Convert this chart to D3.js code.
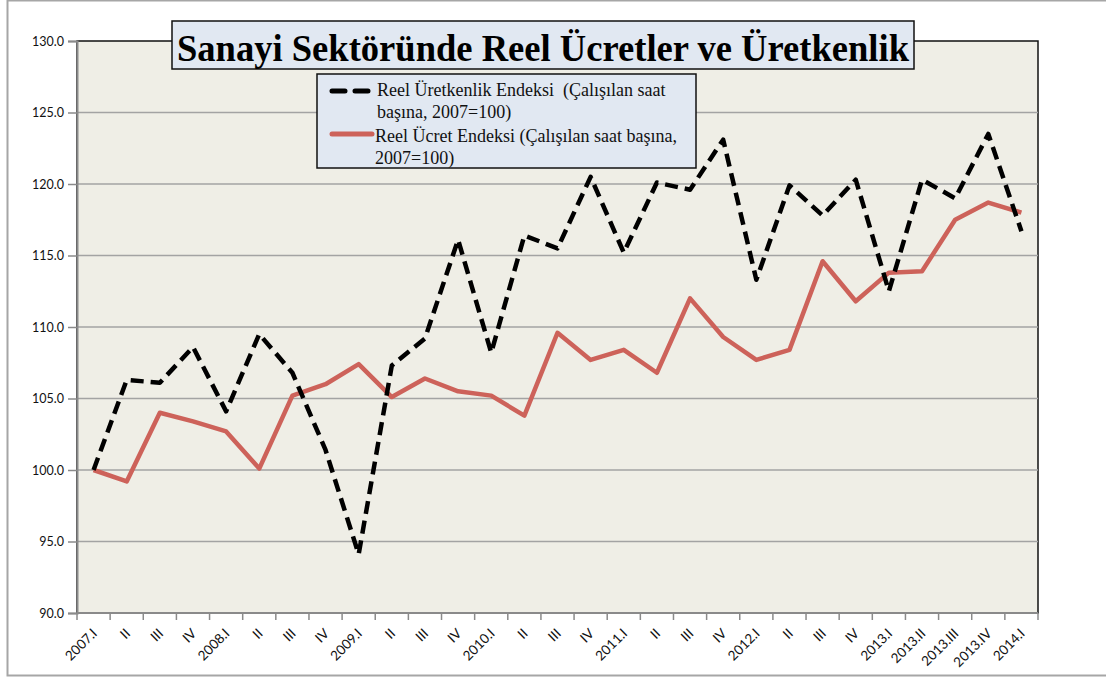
<!DOCTYPE html>
<html>
<head>
<meta charset="utf-8">
<script src="https://cdn.jsdelivr.net/npm/d3@7"></script>
<style>
  body { margin: 0; background: #fff; }
  .axis text { font-family: Lato, "Open Sans", sans-serif; fill: #111; }
  .legendText { font-family: "Liberation Serif", "Times New Roman", serif; font-size: 18px; fill: #111; white-space: pre; }
</style>
</head>
<body>
<div class="chart"></div>
<script>
// data
var quarterLabels = ["2007.I", "II", "III", "IV", "2008.I", "II", "III", "IV",
  "2009.I", "II", "III", "IV", "2010.I", "II", "III", "IV",
  "2011.I", "II", "III", "IV", "2012.I", "II", "III", "IV",
  "2013.I", "2013.II", "2013.III", "2013.IV", "2014.I"];

var productivityIndex = [100.0, 106.3, 106.1, 108.6, 104.1, 109.5, 106.8, 101.4,
  94.1, 107.3, 109.2, 116.1, 108.2, 116.4, 115.5, 120.5,
  115.2, 120.1, 119.6, 123.1, 113.3, 119.9, 117.8, 120.3,
  112.5, 120.3, 119.0, 123.5, 116.7];

var wageIndex = [100.0, 99.2, 104.0, 103.4, 102.7, 100.1, 105.2, 106.0,
  107.4, 105.1, 106.4, 105.5, 105.2, 103.8, 109.6, 107.7,
  108.4, 106.8, 112.0, 109.3, 107.7, 108.4, 114.6, 111.8,
  113.8, 113.9, 117.5, 118.7, 118.0];

var yTicks = [90, 95, 100, 105, 110, 115, 120, 125, 130];

var seriesNames = ["Reel Üretkenlik Endeksi  (Çalışılan saat", "başına, 2007=100)",
  "Reel Ücret Endeksi (Çalışılan saat başına,", "2007=100)"];

var chartTitle = "Sanayi Sektöründe Reel Ücretler ve Üretkenlik";

var svgWidth = 1106;
var svgHeight = 678;

var margin = { top: 41, right: 68, bottom: 65, left: 77 };
var width = svgWidth - margin.left - margin.right;
var height = svgHeight - margin.top - margin.bottom;

var svg = d3.select(".chart")
  .append("svg")
  .attr("width", svgWidth)
  .attr("height", svgHeight);

// outer chart frame
svg.append("rect")
  .attr("x", 7.5).attr("y", 0.5)
  .attr("width", svgWidth + 10).attr("height", 675)
  .attr("fill", "#fff")
  .attr("stroke", "#a6a6a6")
  .attr("stroke-width", 2);

var chartGroup = svg.append("g")
  .attr("transform", `translate(${margin.left}, ${margin.top})`);

// scales
var xScale = d3.scaleBand()
  .domain(d3.range(quarterLabels.length))
  .range([0, width])
  .padding(0);

var yScale = d3.scaleLinear()
  .domain([90, 130])
  .range([height, 0]);

var xMid = i => xScale(i) + xScale.bandwidth() / 2;

// plot area
chartGroup.append("rect")
  .attr("width", width)
  .attr("height", height)
  .attr("fill", "#efeee6")
  .attr("stroke", "#111")
  .attr("stroke-width", 1.5);

// gridlines
chartGroup.append("g")
  .selectAll("line")
  .data(yTicks.slice(1, -1))
  .enter()
  .append("line")
  .attr("x1", 0).attr("x2", width)
  .attr("y1", d => yScale(d)).attr("y2", d => yScale(d))
  .attr("stroke", "#a3a3a3")
  .attr("stroke-width", 1.5);

// y axis
var leftAxis = d3.axisLeft(yScale)
  .tickValues(yTicks)
  .tickFormat(d3.format(".1f"))
  .tickSize(9)
  .tickPadding(4);

var yAxisG = chartGroup.append("g")
  .attr("class", "axis")
  .call(leftAxis);
yAxisG.select(".domain").attr("stroke", "#8a8a8a").attr("stroke-width", 2);
yAxisG.selectAll(".tick line").attr("stroke", "#8a8a8a").attr("stroke-width", 1.5);
yAxisG.selectAll("text").style("font-size", "12.5px");

// x axis (ticks sit between categories, like Excel)
var xAxisG = chartGroup.append("g")
  .attr("class", "axis")
  .attr("transform", `translate(0, ${height})`);

xAxisG.append("line")
  .attr("x1", 0).attr("x2", width)
  .attr("stroke", "#8a8a8a")
  .attr("stroke-width", 2);

xAxisG.selectAll(".xtick")
  .data(d3.range(quarterLabels.length + 1))
  .enter()
  .append("line")
  .attr("class", "xtick")
  .attr("x1", i => i < quarterLabels.length ? xScale(i) : width)
  .attr("x2", i => i < quarterLabels.length ? xScale(i) : width)
  .attr("y1", 0).attr("y2", 7)
  .attr("stroke", "#8a8a8a")
  .attr("stroke-width", 1.5);

xAxisG.selectAll(".xlabel")
  .data(quarterLabels)
  .enter()
  .append("text")
  .attr("class", "xlabel")
  .attr("text-anchor", "end")
  .attr("transform", (d, i) => `translate(${xMid(i) + 1}, 18) rotate(-45)`)
  .attr("dy", "0.35em")
  .style("font-size", "13.5px")
  .text(d => d);

// lines
var lineGen = d3.line()
  .x((d, i) => xMid(i))
  .y(d => yScale(d));

chartGroup.append("path")
  .datum(wageIndex)
  .attr("d", lineGen)
  .attr("fill", "none")
  .attr("stroke", "#cd625a")
  .attr("stroke-width", 4.5)
  .attr("stroke-linejoin", "round");

chartGroup.append("path")
  .datum(productivityIndex)
  .attr("d", lineGen)
  .attr("fill", "none")
  .attr("stroke", "#000")
  .attr("stroke-width", 4.5)
  .attr("stroke-dasharray", "13,7")
  .attr("stroke-linejoin", "round");

// title
svg.append("rect")
  .attr("x", 172).attr("y", 21)
  .attr("width", 742).attr("height", 48)
  .attr("fill", "#e1e8f2")
  .attr("stroke", "#111")
  .attr("stroke-width", 1.5);

svg.append("text")
  .attr("x", 177).attr("y", 61)
  .attr("textLength", 732)
  .attr("lengthAdjust", "spacingAndGlyphs")
  .style("font-family", "'Liberation Serif', 'Times New Roman', serif")
  .style("font-weight", "bold")
  .style("font-size", "38px")
  .style("fill", "#000")
  .text(chartTitle);

// legend
var legend = svg.append("g");

legend.append("rect")
  .attr("x", 317).attr("y", 74)
  .attr("width", 379).attr("height", 94)
  .attr("fill", "#e1e8f2")
  .attr("stroke", "#111")
  .attr("stroke-width", 1.5);

legend.append("line")
  .attr("x1", 332).attr("x2", 368)
  .attr("y1", 91).attr("y2", 91)
  .attr("stroke", "#000")
  .attr("stroke-width", 5)
  .attr("stroke-linecap", "round")
  .attr("stroke-dasharray", "13,10");

legend.append("line")
  .attr("x1", 332).attr("x2", 372)
  .attr("y1", 134).attr("y2", 134)
  .attr("stroke", "#cd625a")
  .attr("stroke-width", 5)
  .attr("stroke-linecap", "round");

var legendX = [377, 377, 375, 375];
var legendY = [96, 118, 142, 164];

legend.selectAll(".legendText")
  .data(seriesNames)
  .enter()
  .append("text")
  .attr("class", "legendText")
  .attr("x", (d, i) => legendX[i])
  .attr("y", (d, i) => legendY[i])
  .text(d => d);
</script>
</body>
</html>
